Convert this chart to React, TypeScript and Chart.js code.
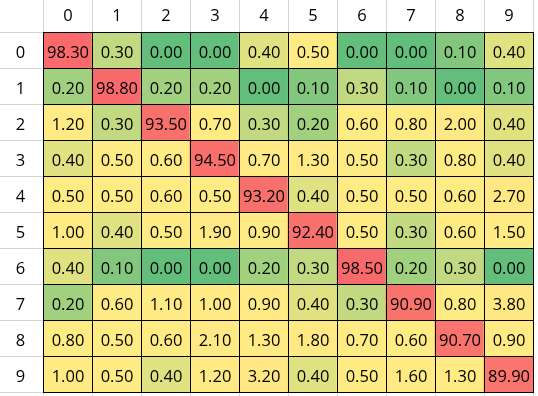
import React, { useEffect, useRef } from "react";
import { Chart, registerables } from "chart.js";

Chart.register(...registerables);

const classLabels = ["0", "1", "2", "3", "4", "5", "6", "7", "8", "9"];

const row0 = [98.3, 0.3, 0.0, 0.0, 0.4, 0.5, 0.0, 0.0, 0.1, 0.4];
const row1 = [0.2, 98.8, 0.2, 0.2, 0.0, 0.1, 0.3, 0.1, 0.0, 0.1];
const row2 = [1.2, 0.3, 93.5, 0.7, 0.3, 0.2, 0.6, 0.8, 2.0, 0.4];
const row3 = [0.4, 0.5, 0.6, 94.5, 0.7, 1.3, 0.5, 0.3, 0.8, 0.4];
const row4 = [0.5, 0.5, 0.6, 0.5, 93.2, 0.4, 0.5, 0.5, 0.6, 2.7];
const row5 = [1.0, 0.4, 0.5, 1.9, 0.9, 92.4, 0.5, 0.3, 0.6, 1.5];
const row6 = [0.4, 0.1, 0.0, 0.0, 0.2, 0.3, 98.5, 0.2, 0.3, 0.0];
const row7 = [0.2, 0.6, 1.1, 1.0, 0.9, 0.4, 0.3, 90.9, 0.8, 3.8];
const row8 = [0.8, 0.5, 0.6, 2.1, 1.3, 1.8, 0.7, 0.6, 90.7, 0.9];
const row9 = [1.0, 0.5, 0.4, 1.2, 3.2, 0.4, 0.5, 1.6, 1.3, 89.9];

const matrix = [row0, row1, row2, row3, row4, row5, row6, row7, row8, row9];

const LOW = [99, 190, 123];
const MID = [255, 235, 132];
const HIGH = [248, 105, 107];

function median(vals: number[]) {
  const s = [...vals].sort((a, b) => a - b);
  const n = s.length;
  return n % 2 ? s[(n - 1) / 2] : (s[n / 2 - 1] + s[n / 2]) / 2;
}

const allVals = matrix.flat();
const vMin = Math.min(...allVals);
const vMax = Math.max(...allVals);
const vMid = median(allVals);

function mix(a: number[], b: number[], t: number) {
  const c = a.map((v, i) => Math.round(v + (b[i] - v) * t));
  return `rgb(${c[0]},${c[1]},${c[2]})`;
}

function colorFor(v: number) {
  if (v <= vMid) {
    const t = vMid === vMin ? 0 : (v - vMin) / (vMid - vMin);
    return mix(LOW, MID, t);
  }
  const t = (v - vMid) / (vMax - vMid);
  return mix(MID, HIGH, t);
}

const FONT = "16.5px 'Open Sans', sans-serif";

const gridPlugin = {
  id: "excelGrid",
  beforeDraw(chart: any) {
    const { ctx, chartArea, width, height } = chart;
    const xs = chart.scales.x;
    const ys = chart.scales.y;
    const n = classLabels.length;
    const colW = xs.width / n;
    ctx.save();
    ctx.fillStyle = "#ffffff";
    ctx.fillRect(0, 0, width, height);
    ctx.strokeStyle = "#d4d4d4";
    ctx.lineWidth = 1;
    ctx.beginPath();
    for (let i = 0; i <= n; i++) {
      const x = Math.floor(xs.getPixelForValue(0) - colW / 2 + i * colW) + 0.5;
      ctx.moveTo(x, 0);
      ctx.lineTo(x, chartArea.top);
      ctx.moveTo(x, chartArea.bottom);
      ctx.lineTo(x, height);
    }
    for (let r = 0; r <= n; r++) {
      const y = Math.floor(ys.getPixelForValue(r - 0.5)) + 0.5;
      ctx.moveTo(0, y);
      ctx.lineTo(chartArea.left, y);
    }
    ctx.stroke();
    ctx.restore();
  },
  afterDatasetsDraw(chart: any) {
    const { ctx, chartArea } = chart;
    const xs = chart.scales.x;
    const ys = chart.scales.y;
    const n = classLabels.length;
    const colW = xs.width / n;
    ctx.save();
    ctx.strokeStyle = "#000000";
    ctx.lineWidth = 1;
    ctx.beginPath();
    for (let i = 0; i <= n; i++) {
      const x = Math.floor(xs.getPixelForValue(0) - colW / 2 + i * colW) + 0.5;
      ctx.moveTo(x, chartArea.top);
      ctx.lineTo(x, chartArea.bottom + 1);
    }
    for (let r = 0; r <= n; r++) {
      const y = Math.floor(ys.getPixelForValue(r - 0.5)) + 0.5;
      ctx.moveTo(chartArea.left, y);
      ctx.lineTo(chartArea.right + 1, y);
    }
    ctx.stroke();

    ctx.font = FONT;
    ctx.fillStyle = "#000000";
    ctx.textAlign = "center";
    ctx.textBaseline = "alphabetic";
    matrix.forEach((row, r) => {
      const cy = ys.getPixelForValue(r);
      row.forEach((v, c) => {
        const cx = xs.getPixelForValue(c);
        ctx.fillText(v.toFixed(2), cx + 0.5, cy + 7.5);
      });
    });
    classLabels.forEach((lab, c) => {
      ctx.fillText(lab, xs.getPixelForValue(c) + 0.5, chartArea.top - 11);
    });
    classLabels.forEach((lab, r) => {
      ctx.fillText(lab, chartArea.left / 2 - 1, ys.getPixelForValue(r) + 7.5);
    });
    ctx.restore();
  },
};

export default function App() {
  const ref = useRef<HTMLCanvasElement | null>(null);
  useEffect(() => {
    document.body.style.margin = "0";
    const canvas = ref.current;
    if (!canvas) return;
    const datasets = matrix.map((row, r) => ({
      label: classLabels[r],
      data: row.map(() => [r - 0.5, r + 0.5]),
      backgroundColor: row.map((v) => colorFor(v)),
      borderWidth: 0,
      grouped: false,
      barPercentage: 1,
      categoryPercentage: 1,
    }));
    const chart = new Chart(canvas, {
      type: "bar",
      data: { labels: classLabels, datasets: datasets as any },
      options: {
        responsive: false,
        devicePixelRatio: 1,
        animation: false,
        layout: { padding: { left: 43, top: 32, right: 5, bottom: 4 } },
        plugins: { legend: { display: false }, tooltip: { enabled: false } },
        scales: {
          x: { type: "category", display: false, offset: true },
          y: { type: "linear", display: false, min: -0.5, max: 9.5, reverse: true },
        },
      },
      plugins: [gridPlugin],
    });
    return () => chart.destroy();
  }, []);
  return <canvas ref={ref} width={538} height={396} style={{ display: "block" }} />;
}
